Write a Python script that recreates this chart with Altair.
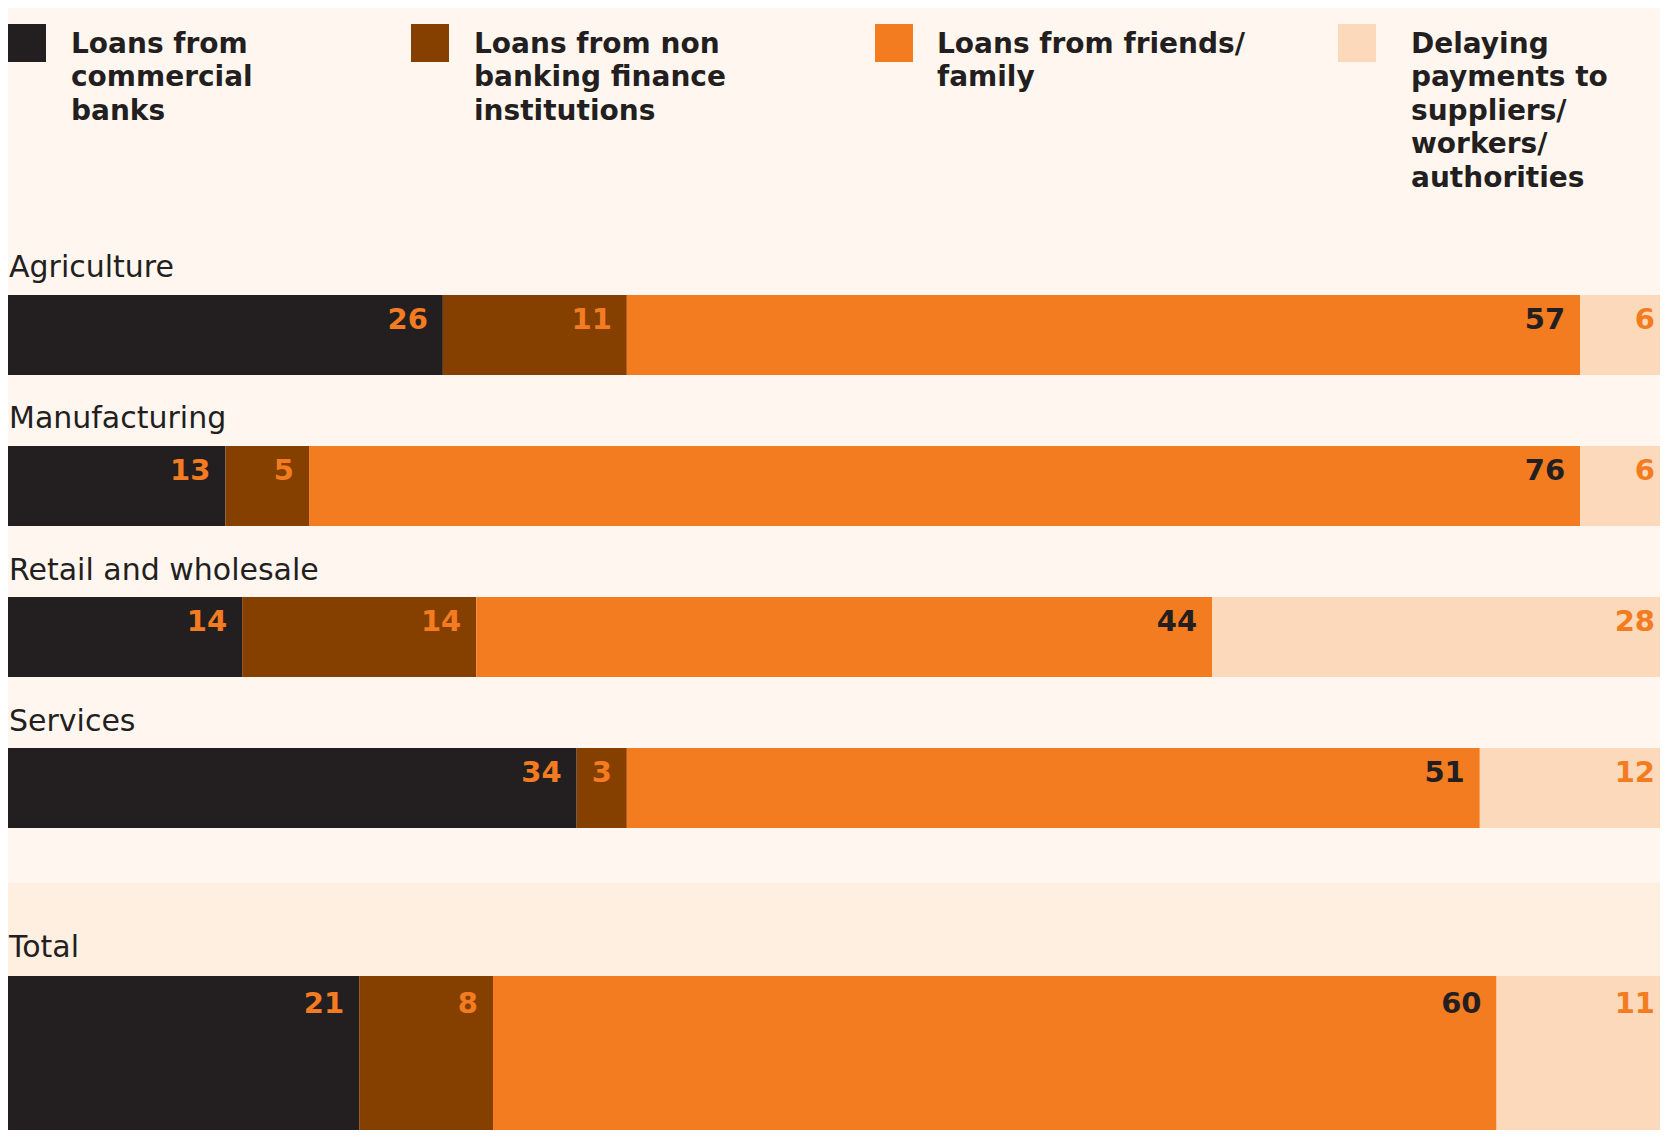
import altair as alt
import pandas as pd

# ---------------- data ----------------
sectors = ["Agriculture", "Manufacturing", "Retail and wholesale", "Services"]
series = [
    "Loans from commercial banks",
    "Loans from non banking finance institutions",
    "Loans from friends/family",
    "Delaying payments to suppliers/workers/authorities",
]
legend_text = [
    "Loans from\ncommercial\nbanks",
    "Loans from non\nbanking finance\ninstitutions",
    "Loans from friends/\nfamily",
    "Delaying\npayments to\nsuppliers/\nworkers/\nauthorities",
]
commercial = [26, 13, 14, 34]
nonbank = [11, 5, 14, 3]
friends = [57, 76, 44, 51]
delaying = [6, 6, 28, 12]

total_label = ["Total"]
total_values = [21, 8, 60, 11]

# ---------------- style ----------------
COLORS = ["#231F20", "#854000", "#F47C20", "#FCD9BA"]
DARK = "#231F20"
ORANGE = "#F47C20"
BG = "#FEF6EF"
TOTAL_BG = "#FEEFE1"
FONT = "DejaVu Sans"
WIDTH = 1652
PX_PER_UNIT = 16.725
XMAX = WIDTH / PX_PER_UNIT
LABEL_PAD = 15 / PX_PER_UNIT      # gap between segment end and its value label
EDGE_PAD = 5 / PX_PER_UNIT        # keep labels inside the visible area

LEGEND_SWATCH_X = [0, 403, 867, 1330]
LEGEND_TEXT_X = [63, 466, 929, 1403]


def long_table(cats, cols):
    rows = []
    for ci, cat in enumerate(cats):
        for si, s in enumerate(series):
            rows.append({"sector": cat, "series": s, "order": si, "value": cols[si][ci]})
    return pd.DataFrame(rows)


sector_df = long_table(sectors, [commercial, nonbank, friends, delaying])
total_df = long_table(total_label, [[v] for v in total_values])

color_scale = alt.Scale(domain=series, range=COLORS)
xs = alt.Scale(domain=[0, XMAX], nice=False, zero=True)


def panel(df, cats, height, p_inner, p_outer, align, label_dy, value_dy, fill):
    yscale = alt.Scale(domain=cats, paddingInner=p_inner, paddingOuter=p_outer, align=align)
    base = alt.Chart(df).transform_window(
        cum="sum(value)", groupby=["sector"], sort=[alt.SortField("order", order="ascending")]
    ).transform_calculate(
        start="datum.cum - datum.value",
        labx=f"min(datum.cum - {LABEL_PAD}, {XMAX - EDGE_PAD})",
    )

    bars = base.mark_bar(clip=True).encode(
        x=alt.X("start:Q", scale=xs, axis=None),
        x2="cum:Q",
        y=alt.Y("sector:N", scale=yscale, sort=cats, axis=None),
        color=alt.Color("series:N", scale=color_scale, legend=None),
    )
    values = base.mark_text(
        align="right", baseline="alphabetic", dy=value_dy,
        font=FONT, fontSize=29, fontWeight="bold",
    ).encode(
        x=alt.X("labx:Q", scale=xs, axis=None),
        y=alt.Y("sector:N", scale=yscale, sort=cats, axis=None, bandPosition=0),
        text=alt.Text("value:Q"),
        color=alt.condition(alt.datum.series == series[2], alt.value(DARK), alt.value(ORANGE)),
    )
    labels = base.transform_filter(alt.datum.order == 0).mark_text(
        align="left", baseline="alphabetic", dy=label_dy,
        font=FONT, fontSize=30, color=DARK,
    ).encode(
        x=alt.value(1),
        y=alt.Y("sector:N", scale=yscale, sort=cats, axis=None, bandPosition=0),
        text="sector:N",
    )
    return alt.layer(bars, values, labels).properties(
        width=WIDTH, height=height,
        view=alt.ViewBackground(fill=fill, stroke=None),
    )


# ---------------- legend ----------------
legend_df = pd.DataFrame({"series": series, "label": legend_text})
legend_layers = []
for i, s in enumerate(series):
    one = alt.Chart(legend_df).transform_filter(alt.datum.series == s)
    legend_layers.append(
        one.mark_rect().encode(
            x=alt.value(LEGEND_SWATCH_X[i]),
            x2=alt.value(LEGEND_SWATCH_X[i] + 38),
            y=alt.value(16),
            y2=alt.value(54),
            color=alt.Color("series:N", scale=color_scale, legend=None),
        )
    )
    legend_layers.append(
        one.mark_text(
            align="left", baseline="alphabetic", lineBreak="\n", lineHeight=33.5,
            font=FONT, fontSize=28, fontWeight="bold", color=DARK,
        ).encode(
            x=alt.value(LEGEND_TEXT_X[i]),
            y=alt.value(44.5),
            text="label:N",
        )
    )
legend = alt.layer(*legend_layers).properties(
    width=WIDTH, height=232, view=alt.ViewBackground(fill=BG, stroke=None)
)

main = panel(sector_df, sectors, 643, 71 / 151, 0.3642, 0.5, -17.5, 34.3, BG)
total = panel(total_df, total_label, 247, 0, 0.302, 1, -19.5, 37.3, TOTAL_BG)

chart = alt.vconcat(legend, main, total, spacing=0).properties(
    padding=0, background=BG
).configure_view(stroke=None)

chart.save("out.html", embed_options={"renderer": "svg", "actions": False})
